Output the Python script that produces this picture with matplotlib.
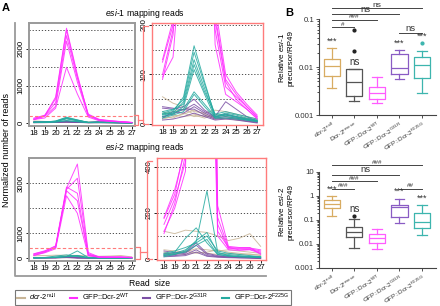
import numpy as np
import matplotlib
matplotlib.use('Agg')
import matplotlib.pyplot as plt
from matplotlib.lines import Line2D

plt.rcParams['font.family'] = ['Liberation Sans', 'DejaVu Sans']
plt.rcParams['mathtext.fontset'] = 'custom'
plt.rcParams['mathtext.rm'] = 'Liberation Sans'
plt.rcParams['mathtext.it'] = 'Liberation Sans:italic'

W, H = 440, 306

# ---------------- data ----------------
read_sizes = [18, 19, 20, 21, 22, 23, 24, 25, 26, 27]

# esi-1 mapping reads (normalized), one row per replicate
esi1_null = [[55, 42, 35, 25, 22, 28, 25, 20, 15, 10],
             [20, 25, 30, 20, 15, 15, 18, 15, 12, 8],
             [10, 15, 20, 28, 20, 12, 10, 12, 8, 6],
             [25, 18, 15, 18, 12, 20, 15, 10, 10, 5],
             [15, 12, 22, 15, 18, 10, 12, 8, 6, 4]]
esi1_g31r = [[32, 30, 35, 50, 28, 15, 45, 30, 15, 5],
             [12, 25, 22, 35, 22, 12, 15, 12, 8, 4],
             [15, 20, 30, 30, 18, 10, 12, 10, 6, 3],
             [35, 32, 28, 40, 25, 14, 20, 15, 10, 6],
             [8, 10, 15, 22, 15, 8, 10, 8, 5, 2]]
esi1_f225g = [[20, 25, 55, 158, 85, 15, 22, 18, 12, 8],
              [22, 28, 50, 145, 80, 18, 20, 15, 10, 6],
              [18, 22, 45, 130, 72, 14, 18, 14, 10, 7],
              [25, 30, 40, 120, 65, 20, 25, 20, 15, 10],
              [15, 20, 35, 110, 60, 12, 15, 12, 8, 5],
              [20, 22, 30, 65, 40, 15, 18, 14, 10, 6],
              [12, 18, 25, 60, 35, 12, 12, 10, 8, 5]]
esi1_wt = [[95, 135, 400, 1500, 780, 160, 60, 45, 30, 12],
           [90, 180, 450, 2200, 1100, 190, 75, 55, 35, 15],
           [125, 200, 550, 2350, 1200, 220, 90, 60, 35, 14],
           [130, 210, 650, 2500, 1250, 240, 100, 65, 40, 18],
           [100, 190, 700, 2550, 1300, 210, 85, 50, 30, 10]]

# esi-2 mapping reads
esi2_null = [[120, 110, 125, 120, 115, 100, 80, 90, 110, 55],
             [40, 35, 30, 45, 40, 35, 40, 35, 30, 25],
             [20, 25, 20, 30, 25, 20, 25, 20, 22, 15],
             [30, 20, 35, 25, 30, 40, 30, 25, 20, 18]]
esi2_g31r = [[35, 28, 30, 70, 25, 15, 12, 10, 8, 5],
             [25, 20, 25, 60, 20, 12, 10, 8, 6, 4],
             [15, 15, 20, 40, 15, 10, 8, 6, 5, 3],
             [10, 12, 15, 30, 12, 8, 6, 5, 4, 2]]
esi2_f225g = [[20, 30, 90, 135, 70, 20, 15, 10, 10, 8],
              [15, 25, 40, 75, 295, 30, 15, 12, 10, 8],
              [10, 20, 35, 80, 115, 25, 20, 15, 12, 10],
              [25, 35, 50, 70, 100, 35, 25, 20, 15, 10],
              [18, 22, 30, 60, 85, 20, 12, 10, 8, 6]]
esi2_wt = [[110, 240, 450, 2800, 3770, 230, 55, 50, 50, 20],
           [150, 260, 420, 2750, 3200, 180, 50, 48, 48, 40],
           [180, 300, 480, 2700, 2300, 150, 45, 45, 45, 35],
           [175, 280, 500, 2850, 2600, 120, 50, 40, 42, 30],
           [120, 220, 380, 2500, 1800, 100, 40, 38, 40, 25]]

# panel B: relative precursor / RP49 (box stats)
b1_whislo = [0.0037, 0.0020, 0.0018, 0.0055, 0.0029]
b1_q1 = [0.0065, 0.0025, 0.0022, 0.0070, 0.0058]
b1_med = [0.0106, 0.0048, 0.0029, 0.0094, 0.0108]
b1_q3 = [0.0147, 0.0089, 0.0039, 0.0187, 0.0160]
b1_whishi = [0.025, 0.0092, 0.0063, 0.0226, 0.022]
b1_fliers = [[], [0.022, 0.058], [], [], [0.032]]

b2_whislo = [0.14, 0.0068, 0.0062, 0.072, 0.024]
b2_q1 = [0.32, 0.019, 0.0105, 0.13, 0.048]
b2_med = [0.46, 0.031, 0.018, 0.36, 0.085]
b2_q3 = [0.70, 0.052, 0.027, 0.41, 0.19]
b2_whishi = [1.0, 0.11, 0.044, 0.78, 0.41]
b2_fliers = [[], [0.14], [], [], []]

C_NULL = '#c8b597'
C_WT = '#ff2cff'
C_G31R = '#7b4fa5'
C_F225G = '#25aaa0'
C_RESCUE = '#555555'
box_colors = ['#d8ac62', C_RESCUE, '#ff5cff', '#8a5cc4', '#3db5ae']
RED = '#ff7b7b'

fig = plt.figure(figsize=(W / 100, H / 100), dpi=100)


def px_axes(l, t, r, b):
    return fig.add_axes([l / W, 1 - b / H, (r - l) / W, (b - t) / H])


def draw_reads(ax, groups, ylim, xlim, grid, yticks, frame_color, frame_lw):
    for rows, col in groups:
        for row in rows:
            ax.plot(read_sizes, row, color=col, lw=0.7, alpha=0.85)
    for g in grid:
        ax.axhline(g, color='#333333', lw=0.6, ls=(0, (1.5, 2.2)), zorder=0)
    ax.set_xlim(*xlim)
    ax.set_ylim(*ylim)
    ax.set_xticks(read_sizes)
    ax.set_yticks(yticks)
    ax.tick_params(axis='both', labelsize=5.6, length=2, width=0.6, pad=1)
    ax.tick_params(axis='y', labelrotation=90)
    for lab in ax.get_yticklabels():
        lab.set_va('center')
    for s in ax.spines.values():
        s.set_color(frame_color)
        s.set_linewidth(frame_lw)


groups1 = [(esi1_null, C_NULL), (esi1_g31r, C_G31R), (esi1_f225g, C_F225G), (esi1_wt, C_WT)]
groups2 = [(esi2_null, C_NULL), (esi2_g31r, C_G31R), (esi2_f225g, C_F225G), (esi2_wt, C_WT)]

a1 = px_axes(29, 23, 135, 126)
draw_reads(a1, groups1, (-80, 2690), (17.55, 27.3), [500, 1000, 1500, 2000, 2500],
           [0, 1000, 2000], '#9a9a9a', 1.4)
a1.axhline(200, color=RED, lw=0.8, ls=(0, (3, 2)))

a2 = px_axes(152, 23, 263, 125)
draw_reads(a2, groups1, (-2, 204), (17.0, 27.55), [50, 100, 150, 200],
           [0, 100, 200], RED, 1.0)

a3 = px_axes(29, 158, 135, 261)
draw_reads(a3, groups2, (-108, 4010), (17.55, 27.3), [1000, 2000, 3000],
           [0, 1000, 3000], '#9a9a9a', 1.4)
a3.axhline(400, color=RED, lw=0.8, ls=(0, (3, 2)))

a4 = px_axes(157, 158, 266, 260)
draw_reads(a4, groups2, (-4, 437), (17.35, 27.5), [100, 200, 300, 400],
           [0, 200, 400], RED, 1.0)

# overlay in pixel coordinates for panel furniture
ov = fig.add_axes([0, 0, 1, 1])
ov.set_xlim(0, W)
ov.set_ylim(H, 0)
ov.axis('off')
ov.patch.set_visible(False)

# zoom brackets
for (sx, st, sb, cy, bx, bt, bb) in [(138, 115, 125, 120, 143, 26, 124),
                                     (140, 247, 259, 252, 147, 161, 259)]:
    ov.plot([sx - 4, sx, sx, sx - 4], [st, st, sb, sb], color=RED, lw=0.9)
    ov.plot([sx, bx], [cy, cy], color=RED, lw=0.9)
    ov.plot([bx + 5, bx, bx, bx + 5], [bt, bt, bb, bb], color=RED, lw=0.9)

# grey L frame of panel A
ov.plot([15, 15, 266], [23, 276, 276], color='#9a9a9a', lw=1.3)

ov.text(2, 8, 'A', fontsize=8, fontweight='bold', va='center')
ov.text(285, 13, 'B', fontsize=8, fontweight='bold', va='center')
ov.text(145, 13, r'$\it{esi}$-$\it{1}$ mapping reads', fontsize=6.2, ha='center', va='center')
ov.text(145, 147, r'$\it{esi}$-$\it{2}$ mapping reads', fontsize=6.2, ha='center', va='center')
ov.text(7, 150, 'Normalized number of reads', fontsize=6.5, rotation=90, ha='center', va='center')
ov.text(150, 283, 'Read  size', fontsize=6.2, ha='center', va='center')

leg_handles = [Line2D([], [], color=c, lw=1.5) for c in (C_NULL, C_WT, C_G31R, C_F225G)]
leg_labels = [r'$\it{dcr}$-$\it{2}^{\rm null}$', r'GFP::Dcr-2$^{\rm WT}$',
              r'GFP::Dcr-2$^{\rm G31R}$', r'GFP::Dcr-2$^{\rm F225G}$']
leg = fig.legend(leg_handles, leg_labels, loc='center', bbox_to_anchor=(153 / W, 1 - 297.5 / H),
                 ncol=4, fontsize=5.4, frameon=True, fancybox=False, handlelength=1.0,
                 handletextpad=0.6, columnspacing=1.8, borderpad=0.3, edgecolor='#555555')
leg.get_frame().set_linewidth(0.8)

# ---------------- panel B ----------------
xlabels_b = [r'$\it{dcr}$-$\it{2}^{\rm null}$', r'Dcr-2$^{\rm rescue}$', r'GFP::Dcr-2$^{\rm WT}$',
             r'GFP::Dcr-2$^{\rm G31R}$', r'GFP::Dcr-2$^{\rm F225G}$']


def draw_box(ax, whislo, q1, med, q3, whishi, fliers, ylim):
    stats = []
    for i in range(len(med)):
        stats.append(dict(whislo=whislo[i], q1=q1[i], med=med[i], q3=q3[i],
                          whishi=whishi[i], fliers=fliers[i]))
    pos = np.arange(len(med))
    bp = ax.bxp(stats, positions=pos, widths=0.72, showfliers=True, capwidths=0.42)
    for i, c in enumerate(box_colors):
        bp['boxes'][i].set(color=c, lw=0.9)
        bp['medians'][i].set(color=c, lw=0.9)
        for k in (2 * i, 2 * i + 1):
            bp['whiskers'][k].set(color=c, lw=0.9)
            bp['caps'][k].set(color=c, lw=0.9)
        fc = '#222222' if i == 1 else c
        bp['fliers'][i].set(marker='o', markersize=2, markerfacecolor=fc, markeredgecolor=fc)
    ax.set_yscale('log')
    ax.set_ylim(*ylim)
    ax.set_xlim(-0.56, 4.62)
    ax.spines['top'].set_visible(False)
    ax.spines['right'].set_visible(False)
    for s in ('left', 'bottom'):
        ax.spines[s].set_linewidth(0.8)
        ax.spines[s].set_color('#444444')
    ax.set_xticks(pos)
    ax.set_xticklabels(xlabels_b, rotation=32, ha='right', rotation_mode='anchor', fontsize=4.6)
    ax.tick_params(axis='both', length=2.5, width=0.6, pad=1, labelsize=5.6, colors='#333333')
    ax.tick_params(axis='x', labelsize=4.6, pad=1)
    ax.tick_params(axis='y', which='minor', length=1.5, width=0.5)
    return pos


def sig(ax, x0, x1, yf, label, fs, off=0.005):
    tr = ax.get_xaxis_transform()
    ax.plot([x0, x1], [yf, yf], transform=tr, clip_on=False, color='#444444', lw=0.7)
    ax.text((x0 + x1) / 2, yf + off, label, transform=tr, ha='center', va='bottom',
            fontsize=fs, color='#333333')


b1 = px_axes(319, 19, 436, 115)
pos = draw_box(b1, b1_whislo, b1_q1, b1_med, b1_q3, b1_whishi, b1_fliers, (0.001, 0.1))
b1.set_yticks([0.001, 0.01, 0.1])
b1.set_yticklabels(['0.001', '0.01', '0.1'])
for i, top in enumerate([b1_whishi[0], None, None, b1_whishi[3], max(b1_fliers[4])]):
    if top is not None:
        b1.text(pos[i], top * 1.12, '***', ha='center', va='bottom', fontsize=6.5, color='#333333')
b1.text(pos[1], b1_q3[1] * 1.12, 'ns', ha='center', va='bottom', fontsize=7, color='#333333')
sig(b1, 0, 4, (115 - 8) / 96, 'ns', 6.0, off=-0.01)
sig(b1, 0, 3, (115 - 14) / 96, 'ns', 6.8)
sig(b1, 0, 2, (115 - 19.5) / 96, '###', 4.5)
sig(b1, 0, 1, (115 - 27) / 96, '#', 4.5)
sig(b1, 3, 4, (115 - 33) / 96, 'ns', 6.8)

b2 = px_axes(319, 172, 436, 268)
pos = draw_box(b2, b2_whislo, b2_q1, b2_med, b2_q3, b2_whishi, b2_fliers, (0.001, 10))
b2.set_yticks([0.001, 0.01, 0.1, 1, 10])
b2.set_yticklabels(['0.001', '0.01', '0.1', '1', '10'])
for i in (0, 3, 4):
    b2.text(pos[i], b2_whishi[i] * 1.3, '***', ha='center', va='bottom', fontsize=6.5, color='#333333')
b2.text(pos[1], b2_fliers[1][0] * 1.3, 'ns', ha='center', va='bottom', fontsize=7, color='#333333')
sig(b2, 0, 4, (268 - 165) / 96, '###', 4.5)
sig(b2, 0, 3, (268 - 174.5) / 96, 'ns', 6.8)
sig(b2, 0, 2, (268 - 181) / 96, '###', 4.5)
sig(b2, 0, 1, (268 - 188.5) / 96, '###', 4.5)
sig(b2, 3, 4, (268 - 188.5) / 96, '##', 4.5)

ov.text(282, 58, r'Relative $\it{esi}$-$\it{1}$', fontsize=5.8, rotation=90, ha='center', va='center')
ov.text(291, 58, 'precursor/RP49', fontsize=5.8, rotation=90, ha='center', va='center')
ov.text(282, 212, r'Relative $\it{esi}$-$\it{2}$', fontsize=5.8, rotation=90, ha='center', va='center')
ov.text(291, 212, 'precursor/RP49', fontsize=5.8, rotation=90, ha='center', va='center')

fig.savefig('out.png', dpi=100)
